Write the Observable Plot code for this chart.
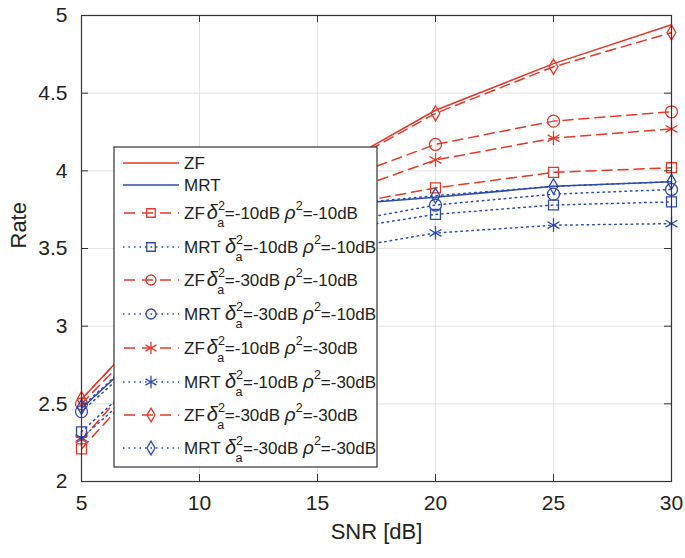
<!DOCTYPE html>
<html>
<head>
<meta charset="utf-8">
<script src="https://cdn.jsdelivr.net/npm/d3@7"></script>
<script src="https://cdn.jsdelivr.net/npm/@observablehq/plot@0.6"></script>
<style>
  html, body { margin: 0; padding: 0; background: white; }
  #chart { width: 685px; height: 558px; }
</style>
</head>
<body>
<div id="chart"></div>
<script>
// ---- data ----
const snr = [5, 10, 15, 20, 25, 30];
const xTicks = [5, 10, 15, 20, 25, 30];
const yTicks = [2, 2.5, 3, 3.5, 4, 4.5, 5];

const zfPerfect  = [2.53, 3.34, 3.96, 4.39, 4.69, 4.94];
const mrtPerfect = [2.47, 3.17, 3.77, 3.83, 3.90, 3.93];
const zfSq   = [2.21, 3.05, 3.75, 3.89, 3.99, 4.02];
const mrtSq  = [2.32, 3.02, 3.60, 3.72, 3.78, 3.80];
const zfCi   = [2.50, 3.28, 3.89, 4.17, 4.32, 4.38];
const mrtCi  = [2.45, 3.13, 3.64, 3.78, 3.85, 3.88];
const zfSt   = [2.27, 3.12, 3.80, 4.07, 4.21, 4.27];
const mrtSt  = [2.28, 2.95, 3.47, 3.60, 3.65, 3.66];
const zfDi   = [2.53, 3.33, 3.95, 4.37, 4.67, 4.89];
const mrtDi  = [2.48, 3.17, 3.77, 3.84, 3.90, 3.93];

const RED = "#e4392b", BLUE = "#2f4aae";

const series = [
  {name: "ZF",  type: "zf",  values: zfPerfect,  color: RED,  dash: null,      symbol: null},
  {name: "MRT", type: "mrt", values: mrtPerfect, color: BLUE, dash: null,      symbol: null},
  {name: "ZF",  type: "zf",  values: zfSq,  color: RED,  dash: "10,6",  symbol: "square",   d: "-10", r: "-10"},
  {name: "MRT", type: "mrt", values: mrtSq, color: BLUE, dash: "1.5,4", symbol: "square",   d: "-10", r: "-10"},
  {name: "ZF",  type: "zf",  values: zfCi,  color: RED,  dash: "10,6",  symbol: "circle",   d: "-30", r: "-10"},
  {name: "MRT", type: "mrt", values: mrtCi, color: BLUE, dash: "1.5,4", symbol: "circle",   d: "-30", r: "-10"},
  {name: "ZF",  type: "zf",  values: zfSt,  color: RED,  dash: "10,6",  symbol: "asterisk", d: "-10", r: "-30"},
  {name: "MRT", type: "mrt", values: mrtSt, color: BLUE, dash: "1.5,4", symbol: "asterisk", d: "-10", r: "-30"},
  {name: "ZF",  type: "zf",  values: zfDi,  color: RED,  dash: "10,6",  symbol: "diamond",  d: "-30", r: "-30"},
  {name: "MRT", type: "mrt", values: mrtDi, color: BLUE, dash: "1.5,4", symbol: "diamond",  d: "-30", r: "-30"}
];

const symR = {square: 5.6, circle: 6, asterisk: 6.5, diamond: 4.6};
const legR = {square: 4.8, circle: 5, asterisk: 6, diamond: 4.2};

const W = 685, H = 558, mL = 81, mR = 14, mT = 15, mB = 77;
const plotW = W - mL - mR, plotH = H - mT - mB;
const font = "'Liberation Sans', Arial, Helvetica, sans-serif";

const marks = [
  Plot.gridX(xTicks, {stroke: "#e3e3e3", strokeOpacity: 1, strokeWidth: 1}),
  Plot.gridY(yTicks, {stroke: "#e3e3e3", strokeOpacity: 1, strokeWidth: 1})
];
series.forEach(s => {
  const data = snr.map((x, i) => ({x, y: s.values[i]}));
  marks.push(Plot.line(data, {x: "x", y: "y", stroke: s.color, strokeWidth: 1.5,
    strokeDasharray: s.dash || undefined}));
  if (s.symbol) {
    marks.push(Plot.dot(data, {x: "x", y: "y", symbol: () => s.symbol, r: symR[s.symbol],
      stroke: s.color, fill: "none", strokeWidth: 1.3}));
  }
});
// inward ticks, MATLAB style
marks.push(
  Plot.tickX(xTicks, {x: d => d, stroke: "#333", insetTop: plotH - 7}),
  Plot.tickX(xTicks, {x: d => d, stroke: "#333", insetBottom: plotH - 7}),
  Plot.tickY(yTicks, {y: d => d, stroke: "#333", insetRight: plotW - 7}),
  Plot.tickY(yTicks, {y: d => d, stroke: "#333", insetLeft: plotW - 7}),
  Plot.frame({stroke: "#333", strokeWidth: 1.2}),
  Plot.axisX(xTicks, {tickSize: 0, tickPadding: 14, fontSize: 21, label: null, tickFormat: d => String(d)}),
  Plot.axisY(yTicks, {tickSize: 0, tickPadding: 14, fontSize: 21, label: null, tickFormat: d => String(d)}),
  Plot.text(["SNR [dB]"], {frameAnchor: "bottom", dy: 57, fontSize: 22, fill: "#222"}),
  Plot.text(["Rate"], {frameAnchor: "left", dx: -63, rotate: -90, fontSize: 22, fill: "#222"})
);

const svg = Plot.plot({
  width: W, height: H,
  marginLeft: mL, marginRight: mR, marginTop: mT, marginBottom: mB,
  x: {domain: [5, 30]},
  y: {domain: [2, 5]},
  style: {fontFamily: font, fontSize: "21px", color: "#222", background: "white"},
  marks
});
document.getElementById("chart").appendChild(svg);

// ---- legend ----
const lg = d3.select(svg).append("g").attr("font-family", font).attr("font-size", 17)
  .attr("fill", "#222").attr("text-anchor", "start");
const box = {x: 114, y: 147, w: 263, h: 320};
lg.append("rect").attr("x", box.x).attr("y", box.y).attr("width", box.w).attr("height", box.h)
  .attr("fill", "white").attr("stroke", "#333").attr("stroke-width", 1.2);
const rowY = [163, 185, 213, 247, 280, 314, 348, 382, 415, 448];
series.forEach((s, i) => {
  const y = rowY[i];
  lg.append("line").attr("x1", 123).attr("x2", 179).attr("y1", y).attr("y2", y)
    .attr("stroke", s.color).attr("stroke-width", 1.5)
    .attr("stroke-dasharray", s.dash ? (s.type === "zf" ? "11,7" : "1.5,4") : null)
    .attr("stroke-dashoffset", s.dash && s.type === "zf" ? -1 : 0);
  if (s.symbol) {
    const symType = {square: d3.symbolSquare, circle: d3.symbolCircle, asterisk: d3.symbolAsterisk, diamond: d3.symbolDiamond}[s.symbol];
    const rr = legR[s.symbol];
    lg.append("path").attr("d", d3.symbol(symType, Math.PI * rr * rr)())
      .attr("transform", `translate(151,${y})`).attr("fill", "none")
      .attr("stroke", s.color).attr("stroke-width", 1.3);
  }
  const t = lg.append("text").attr("x", 184).attr("y", y).attr("dy", "0.36em").attr("text-anchor", "start");
  if (!s.symbol) {
    t.text(s.name);
  } else {
    t.append("tspan").text(s.name + (s.type === "zf" ? "" : " "));
    t.append("tspan").attr("font-style", "italic").attr("font-size", 20).attr("dx", s.type === "zf" ? 2 : 0).text("δ");
    t.append("tspan").attr("font-size", 12.5).attr("dy", -9).text("2");
    t.append("tspan").attr("font-size", 12.5).attr("dx", -7.5).attr("dy", 17).text("a");
    t.append("tspan").attr("dy", -8).attr("dx", 0.5).text("=" + s.d + "dB ");
    t.append("tspan").attr("font-style", "italic").attr("font-size", 19).text("ρ");
    t.append("tspan").attr("font-size", 12.5).attr("dy", -9).text("2");
    t.append("tspan").attr("dy", 9).text("=" + s.r + "dB");
  }
});
</script>
</body>
</html>
